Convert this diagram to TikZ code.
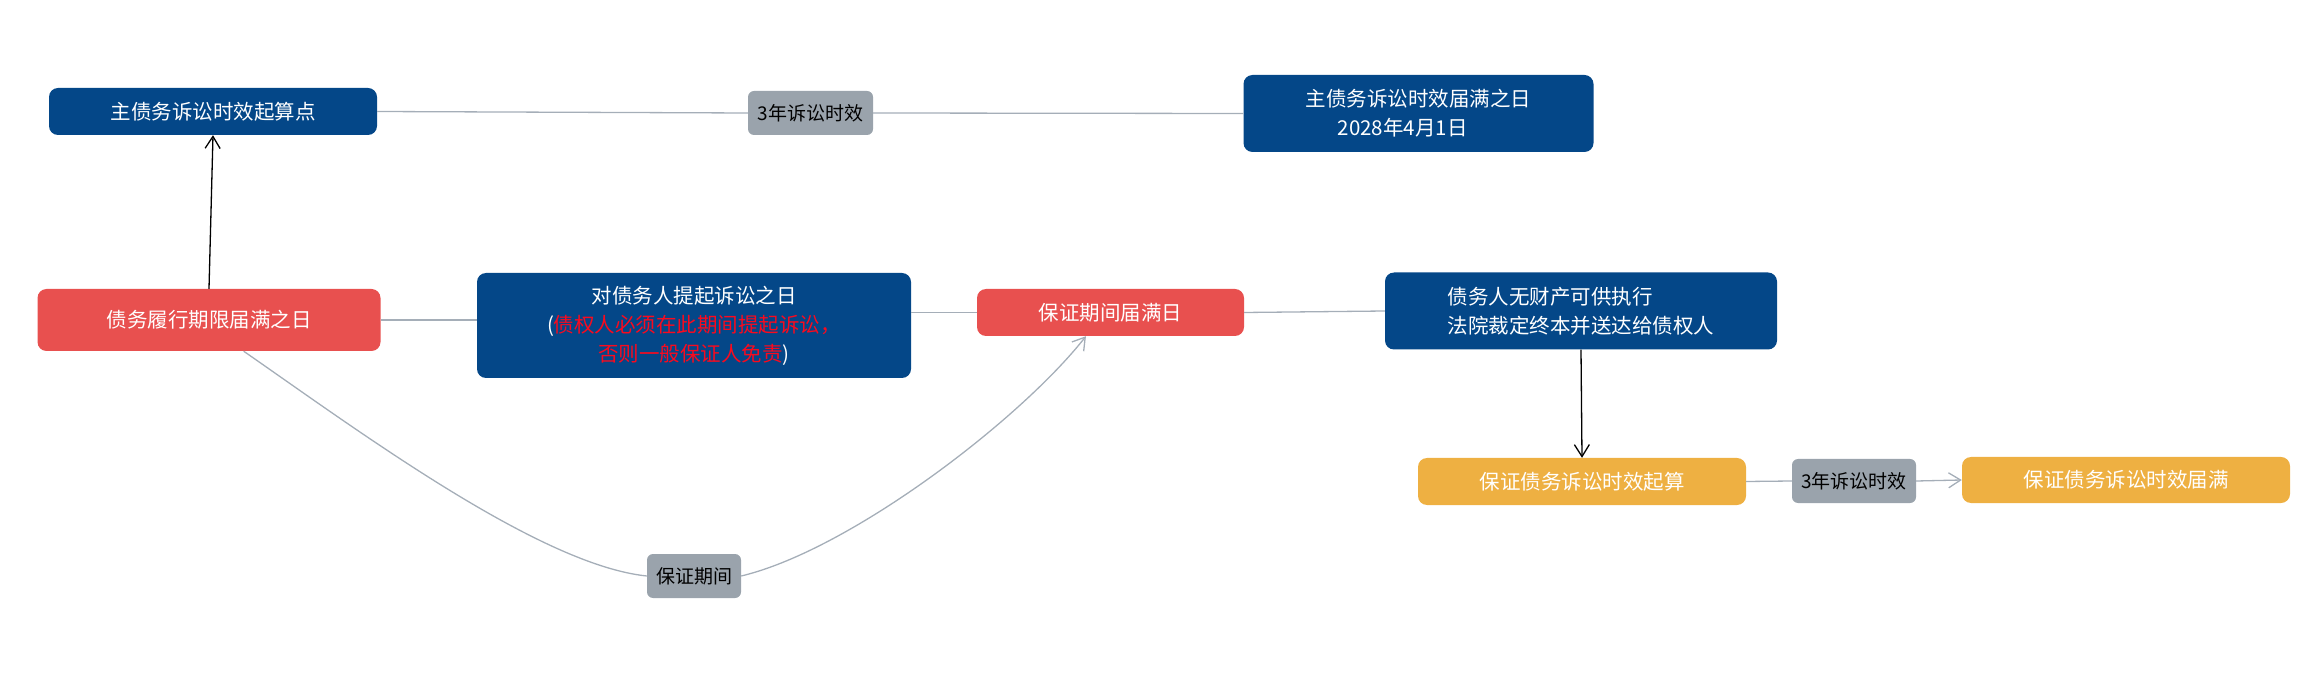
\documentclass[tikz,border=0pt]{standalone}
\usepackage{fontspec}
\newfontfamily\cjk{Noto Sans CJK SC}
\usetikzlibrary{arrows.meta}
\definecolor{darkblue}{RGB}{4,71,136}
\definecolor{alertred}{RGB}{232,80,79}
\definecolor{amber}{RGB}{238,176,66}
\definecolor{tagGray}{RGB}{154,163,172}
\definecolor{lineGray}{RGB}{165,174,184}
\definecolor{noteRed}{RGB}{250,10,30}
\begin{document}
\begin{tikzpicture}[x=1pt,y=-1pt,
    box/.style={rounded corners=9pt, inner sep=0pt, text=white, align=center,
        font=\cjk\fontsize{20.5}{29}\selectfont},
    bluebox/.style={box, fill=darkblue},
    redbox/.style={box, fill=alertred},
    orangebox/.style={box, fill=amber},
    graylabel/.style={rounded corners=6pt, fill=tagGray, text=black, inner sep=0pt,
        minimum width=#1, minimum height=44pt, font=\cjk\fontsize{19}{24}\selectfont},
    link/.style={draw=lineGray, line width=1.3pt},
    pointer/.style={-{Straight Barb[length=12pt,width=15pt]}, line width=1.3pt}]
    \useasboundingbox (0,0) rectangle (2322,692);
    %\draw[very thin,color=gray] (0,0) grid[step=100] (2322,692);
    \node[bluebox, minimum width=328pt, minimum height=47pt] (mainstart) at (213,111.5) {主债务诉讼时效起算点};
    \node[graylabel=125pt] (mainterm) at (810.5,113) {3年诉讼时效};
    \node[bluebox, minimum width=350pt, minimum height=77pt, align=left] (mainend) at (1418.5,113.5)
        {主债务诉讼时效届满之日\\\hspace*{32pt}2028年4月1日};
    \node[redbox, minimum width=343pt, minimum height=62pt] (due) at (209,320) {债务履行期限届满之日};
    \node[bluebox, minimum width=434pt, minimum height=105pt] (sue) at (694,325.5)
        {对债务人提起诉讼之日\\({\color{noteRed}债权人必须在此期间提起诉讼，}\\{\color{noteRed}否则一般保证人免责})};
    \node[redbox, minimum width=267pt, minimum height=47pt] (guarend) at (1110.5,312.5) {保证期间届满日};
    \node[bluebox, minimum width=392pt, minimum height=77pt, align=left] (noasset) at (1581,311)
        {债务人无财产可供执行\\法院裁定终本并送达给债权人};
    \node[orangebox, minimum width=328pt, minimum height=47pt] (gstart) at (1582,481.5) {保证债务诉讼时效起算};
    \node[graylabel=124pt] (gterm) at (1854,481) {3年诉讼时效};
    \node[orangebox, minimum width=328pt, minimum height=46pt] (gend) at (2126,480) {保证债务诉讼时效届满};
    \node[graylabel=94pt] (period) at (694,576) {保证期间};
    % connectors
    \draw[link] (mainstart.east) -- (mainterm.west);
    \draw[link] (mainterm.east) -- (mainend.west);
    \draw[pointer] (due.north) -- (mainstart.south);
    \draw[link] (due.east) -- (sue.west |- due.east);
    \draw[link] (sue.east |- guarend.west) -- (guarend.west);
    \draw[link] (guarend.east) -- (noasset.west);
    \draw[pointer] (noasset.south) -- (gstart.north);
    \draw[link] (gstart.east) -- (gterm.west);
    \draw[link, pointer] (gterm.east) -- (gend.west);
    \draw[link] (due.-42) .. controls (360,432) and (540,565) .. (period.west);
    \draw[link, pointer] (period.east) .. controls (850,550) and (1020,420) .. (guarend.-136);
\end{tikzpicture}
\end{document}
